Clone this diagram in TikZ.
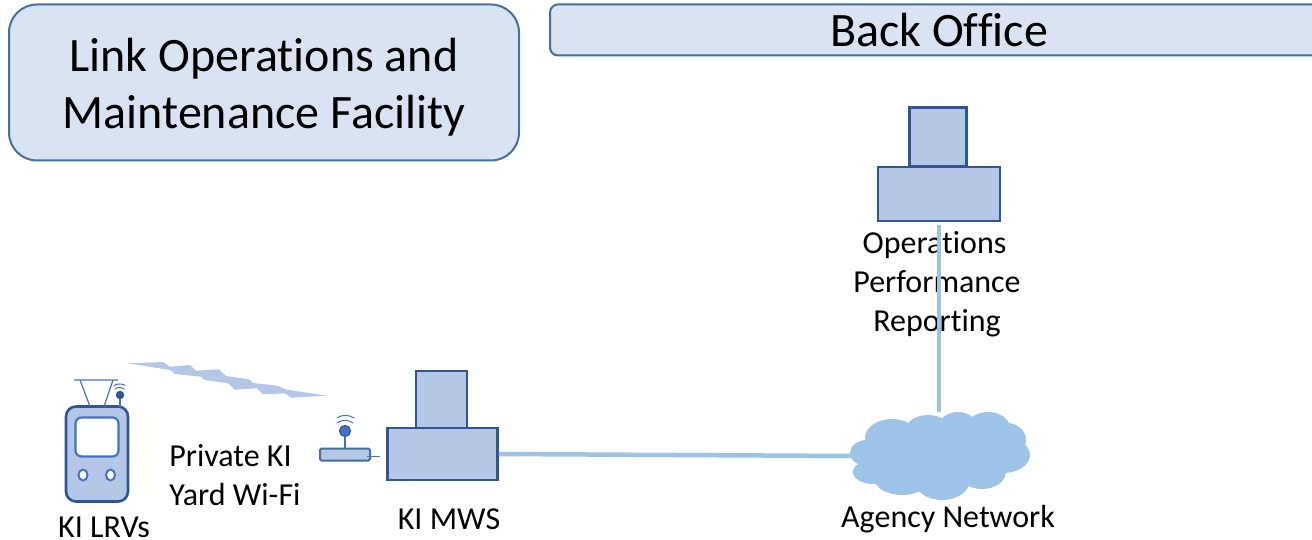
\documentclass[tikz,border=0pt]{standalone}
\usepackage{fontspec}
\usetikzlibrary{shapes.geometric}
\setmainfont[Ligatures=NoCommon]{Carlito}
\definecolor{panelfill}{HTML}{DAE3F3}
\definecolor{panelline}{HTML}{41719C}
\definecolor{boxfill}{HTML}{B4C7E7}
\definecolor{boxline}{HTML}{2F5597}
\definecolor{accent}{HTML}{4472C4}
\definecolor{link}{HTML}{9DC3E6}
\tikzset{
  panel/.style={draw=panelline,fill=panelfill,line width=2pt,rounded corners=#1},
  unit/.style={draw=boxline,fill=boxfill,line width=2.5pt,inner sep=0pt},
  label/.style={align=center,font=\fontsize{32}{39}\selectfont,inner sep=0pt,text=black},
  single/.style={font=\fontsize{32}{39}\selectfont,inner sep=0pt,text=black,anchor=base},
  netlink/.style={draw=link,line width=4.5pt},
  thinline/.style={draw=accent,line width=1.2pt},
  wave/.style={draw=accent,line width=1pt,line cap=round},
  lobe/.style={fill=link,draw=none},
  lamp/.style={ellipse,draw=accent,fill=white,line width=2pt,minimum width=9pt,minimum height=11pt,inner sep=0pt}
}
\begin{document}
\begin{tikzpicture}[x=1pt,y=-1pt]
\useasboundingbox (0,0) rectangle (1312,540);
% title panels
\node[panel=28pt,minimum width=510pt,minimum height=156pt,inner sep=0pt] (lomf) at (264,82.5) {};
\node[align=center,inner sep=0pt,font=\fontsize{48}{57}\selectfont] (lomftext) at (264,87) {Link Operations and\\Maintenance Facility};
\node[panel=8pt,minimum width=778pt,minimum height=51pt,inner sep=0pt,font=\fontsize{48}{50}\selectfont] (bo) at (939,30) {Back Office};
% back office server
\node[unit,minimum width=57pt,minimum height=59pt] (opstop) at (938,137) {};
\node[unit,minimum width=122pt,minimum height=54pt] (opsbase) at (939,194) {};
\node[label] (opstext) at (937,284.5) {Operations\mbox{\hspace*{5pt}}\\Performance\\Reporting};
% MWS server
\node[unit,minimum width=51pt,minimum height=57pt] (mwstop) at (441.5,399.5) {};
\node[unit,minimum width=110pt,minimum height=52pt] (mwsbase) at (442.5,454) {};
\node[single] (mwstext) at (449,529) {KI MWS};
% cloud
\fill[lobe] (940,452) ellipse (70 and 28);
\fill[lobe] (892,438) ellipse (27 and 19);
\fill[lobe] (928,430) ellipse (22 and 15);
\fill[lobe] (958,428) ellipse (20 and 16);
\fill[lobe] (988,428) ellipse (22 and 16);
\fill[lobe] (1007,440) ellipse (19 and 17);
\fill[lobe] (1003,455) ellipse (27 and 18);
\fill[lobe] (982,472) ellipse (24 and 17);
\fill[lobe] (942,480) ellipse (28 and 20);
\fill[lobe] (902,478) ellipse (28 and 17);
\fill[lobe] (873,472) ellipse (20 and 12);
\fill[lobe] (867,453) ellipse (17 and 13);
\coordinate (cloudleft) at (851,456);
\coordinate (cloudtop) at (939,412);
\coordinate (opsfoot) at (939,225);
\node[single] (agency) at (948,527) {Agency Network};
% links
\draw[netlink] (mwsbase.east) -- (cloudleft);
\draw[netlink] (opsfoot) -- (cloudtop);
% router
\node[draw=panelline,fill=boxfill,line width=2pt,rounded corners=1.5pt,minimum width=50pt,minimum height=12pt,inner sep=0pt] (router) at (345,454.5) {};
\coordinate (routertail) at (380,456.5);
\coordinate (routertailstart) at (367,456.5);
\draw[thinline] (routertailstart) -- (routertail);
\node[circle,draw=boxline,fill=accent,line width=1.2pt,minimum size=11pt,inner sep=0pt] (routerball) at (345,431) {};
\draw[thinline] (routerball) -- (router);
\draw[wave] (337,423) .. controls (341,419.5) and (349,419.5) .. (353,423);
\draw[wave] (337,418) .. controls (341,414.5) and (349,414.5) .. (354,418);
% radio bolt
\fill[boxfill] (128,363.3) -- (163,362) -- (170,366.7) -- (190,365) -- (196,370.7) -- (219,369.3) -- (226,376) -- (249,379.3) -- (253,383) -- (278,385.7) -- (285,389.3) -- (326,395.7) -- (291,397.7) -- (285,393.3) -- (263,394.3) -- (257,388.3) -- (235,389.7) -- (228,383.3) -- (205,380) -- (201,376.7) -- (175,374) -- (170,370) -- cycle;
% vehicle
\node[draw=boxline,fill=boxfill,line width=2.6pt,rounded corners=10pt,minimum width=62pt,minimum height=95pt,inner sep=0pt] (lrv) at (97,454) {};
\node[draw=accent,fill=white,line width=2.2pt,rounded corners=6pt,minimum width=43pt,minimum height=39pt,inner sep=0pt] (lrvscreen) at (97,437) {};
\node[lamp] (lamp1) at (83,475) {};
\node[lamp] (lamp2) at (110.5,475) {};
\draw[thinline] (74,380) -- (118,380) (80,380) -- (90,406.5) (113,380) -- (104,406.5);
\node[circle,draw=boxline,fill=boxline,minimum size=8pt,inner sep=0pt] (lrvball) at (120,395) {};
\draw[thinline] (lrvball) -- (120,406.5);
\draw[wave] (115,389) .. controls (117,387) and (122,387) .. (124,389);
\draw[wave] (114,385.5) .. controls (117,383.5) and (123,383.5) .. (125,385.5);
\node[single] (lrvtext) at (104,537.5) {KI LRVs};
\node[label,align=left] (wifi) at (235,475.5) {Private KI\\Yard Wi-Fi};
\end{tikzpicture}
\end{document}
